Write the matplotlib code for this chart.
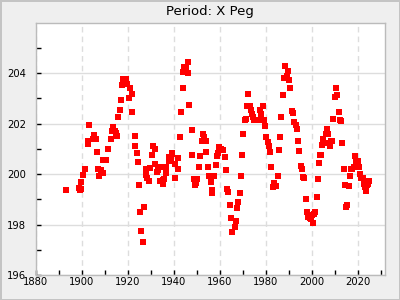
import numpy as np
import matplotlib
matplotlib.use("Agg")
import matplotlib.pyplot as plt
from matplotlib.ticker import MultipleLocator

# 观测数据 (年份, 周期)
years = [
    1893.3, 1898.9, 1899.4, 1899.6, 1899.9, 1900.7, 1901.6, 1902.6, 1902.9, 1903.4,
    1904.8, 1905.5, 1906.4, 1906.8, 1907.3, 1907.7, 1908.5, 1909.2, 1909.5, 1910.6,
    1911.6, 1912.9, 1913.2, 1913.8, 1914.7, 1915.0, 1915.4, 1916.0, 1916.9, 1917.3,
    1917.7, 1918.0, 1918.6, 1919.3, 1918.2, 1919.6, 1921.2, 1921.7, 1920.8, 1922.1,
    1923.0, 1923.4, 1923.9, 1924.7, 1925.1, 1927.3, 1925.6, 1926.0, 1926.9, 1927.8,
    1928.2, 1928.6, 1929.5, 1929.9, 1930.4, 1931.2, 1931.7, 1932.1, 1932.6, 1933.4,
    1933.9, 1934.3, 1935.2, 1935.6, 1936.0, 1936.5, 1936.9, 1937.8, 1938.2, 1938.7,
    1939.1, 1939.5, 1940.4, 1940.8, 1941.7, 1942.1, 1942.6, 1943.0, 1943.9, 1944.3,
    1944.7, 1945.6, 1946.1, 1946.4, 1946.7, 1947.8, 1948.2, 1951.3, 1950.9, 1948.8,
    1950.3, 1949.1, 1949.8, 1952.6, 1953.2, 1952.2, 1953.9, 1954.3, 1954.8, 1955.2,
    1957.4, 1956.1, 1956.9, 1956.5, 1958.3, 1958.7, 1959.1, 1959.6, 1960.4, 1961.3,
    1962.2, 1962.6, 1963.1, 1963.5, 1964.4, 1964.8, 1965.5, 1966.5, 1967.0, 1967.4,
    1967.8, 1968.7, 1969.2, 1969.6, 1970.0, 1970.9, 1971.3, 1971.8, 1972.2, 1973.1,
    1973.5, 1974.0, 1974.4, 1974.8, 1975.6, 1977.0, 1978.0, 1977.7, 1978.7, 1979.2,
    1979.6, 1980.0, 1980.9, 1981.4, 1981.8, 1982.2, 1983.5, 1983.1, 1984.4, 1985.3,
    1985.7, 1986.1, 1986.6, 1987.5, 1987.9, 1988.3, 1989.2, 1989.6, 1990.1, 1990.5,
    1991.4, 1991.8, 1992.2, 1993.1, 1993.6, 1994.0, 1994.4, 1995.3, 1995.7, 1996.2,
    1996.6, 1997.5, 1997.9, 1998.3, 1998.8, 1999.2, 1999.7, 2000.5, 2000.1, 2001.0,
    2001.4, 2002.3, 2002.7, 2003.1, 2003.6, 2004.0, 2004.4, 2004.9, 2005.7, 2006.2,
    2006.6, 2007.1, 2007.9, 2008.4, 2008.8, 2009.2, 2010.1, 2010.5, 2011.0, 2011.8,
    2012.3, 2012.7, 2013.2, 2014.0, 2014.5, 2015.3, 2014.9, 2016.2, 2016.6, 2017.1,
    2017.5, 2018.4, 2018.8, 2019.3, 2020.1, 2019.7, 2020.6, 2021.0, 2021.4, 2022.3,
    2022.7, 2023.2, 2023.6, 2024.1, 2024.5, 2024.9,
]
periods = [
    199.37, 199.45, 199.37, 199.42, 199.67, 199.95, 200.19, 201.18, 201.32, 201.93,
    201.41, 201.57, 201.41, 200.86, 200.19, 199.91, 200.16, 200.03, 200.55, 200.58,
    200.98, 201.41, 201.71, 201.85, 201.71, 201.64, 201.53, 202.25, 202.56, 202.92,
    203.55, 203.79, 203.79, 203.76, 203.56, 203.56, 203.43, 203.16, 203.00, 202.48,
    201.53, 201.10, 200.82, 200.50, 199.55, 198.68, 198.48, 197.73, 197.30, 200.19,
    199.95, 199.83, 199.71, 200.23, 200.74, 201.10, 200.98, 200.42, 200.07, 200.15,
    200.30, 199.71, 199.59, 199.75, 199.79, 200.03, 200.30, 200.54, 200.66, 200.62,
    200.78, 200.82, 200.42, 199.83, 200.19, 200.62, 201.49, 202.48, 203.43, 204.03,
    204.23, 204.19, 204.45, 203.99, 202.76, 201.73, 200.74, 200.70, 200.30, 199.79,
    199.79, 199.55, 199.63, 201.61, 201.49, 201.30, 201.33, 200.86, 200.27, 199.91,
    199.91, 199.67, 199.39, 199.27, 200.38, 200.70, 200.82, 201.06, 200.98, 200.94,
    200.66, 200.15, 199.43, 199.31, 198.76, 198.25, 197.69, 197.89, 198.13, 198.64,
    198.88, 199.27, 199.91, 200.74, 201.61, 202.13, 202.17, 202.72, 203.16, 202.72,
    202.56, 202.40, 202.25, 202.13, 202.14, 202.14, 202.38, 202.53, 202.69, 202.14,
    201.90, 201.49, 201.27, 201.10, 200.86, 200.27, 199.63, 199.47, 199.51, 199.91,
    200.94, 201.49, 202.25, 203.12, 203.83, 204.27, 203.91, 204.10, 203.75, 203.43,
    202.52, 202.44, 202.05, 201.93, 201.77, 201.30, 200.90, 200.34, 200.19, 199.87,
    199.83, 199.00, 198.48, 198.29, 198.36, 198.25, 198.21, 198.05, 198.36, 198.40,
    198.48, 199.08, 199.79, 200.46, 200.74, 200.74, 201.14, 201.41, 201.22, 201.61,
    201.77, 201.61, 201.10, 201.30, 201.30, 202.17, 203.04, 203.43, 203.12, 202.48,
    202.13, 202.09, 201.22, 200.19, 199.55, 198.76, 198.68, 199.51, 199.91, 200.19,
    200.19, 200.30, 200.70, 200.54, 200.54, 200.30, 200.30, 200.00, 199.83, 199.83,
    199.59, 199.47, 199.35, 199.55, 199.59, 199.71,
]

title = "Period: X Peg"
xlim = (1880, 2032)
ylim = (196, 205.98)

fig = plt.figure(figsize=(4, 3), dpi=100, facecolor='#efefef',
                 edgecolor='#c4c4c4', linewidth=2)
ax = fig.add_axes([0.089, 0.0833, 0.874, 0.839])
ax.set_facecolor('white')

ax.plot(years, periods, linestyle='none', marker='s', markersize=3.7,
        markeredgewidth=0, color='#ff0000', zorder=3)

ax.set_xlim(*xlim)
ax.set_ylim(*ylim)
ax.xaxis.set_major_locator(MultipleLocator(20))
ax.xaxis.set_minor_locator(MultipleLocator(10))
ax.yaxis.set_major_locator(MultipleLocator(2))
ax.yaxis.set_minor_locator(MultipleLocator(1))

# 网格：竖线虚线，横线实线
ax.xaxis.grid(True, which='major', linestyle=(0, (4, 3)), color='#dddddd', linewidth=1)
ax.yaxis.grid(True, which='major', linestyle='-', color='#dddddd', linewidth=1)
ax.set_axisbelow(True)

for s in ax.spines.values():
    s.set_color('#bbbbbb')
    s.set_linewidth(1)

ax.tick_params(axis='both', which='both', direction='in', length=3.5,
               width=1, color='black', labelsize=7.2)
ax.tick_params(axis='x', which='both', pad=1.5)
ax.tick_params(axis='y', which='both', pad=7)

ax.set_title(title, fontsize=9.5, pad=6)

fig.savefig('out.png', dpi=100, facecolor=fig.get_facecolor(),
            edgecolor=fig.get_edgecolor())
